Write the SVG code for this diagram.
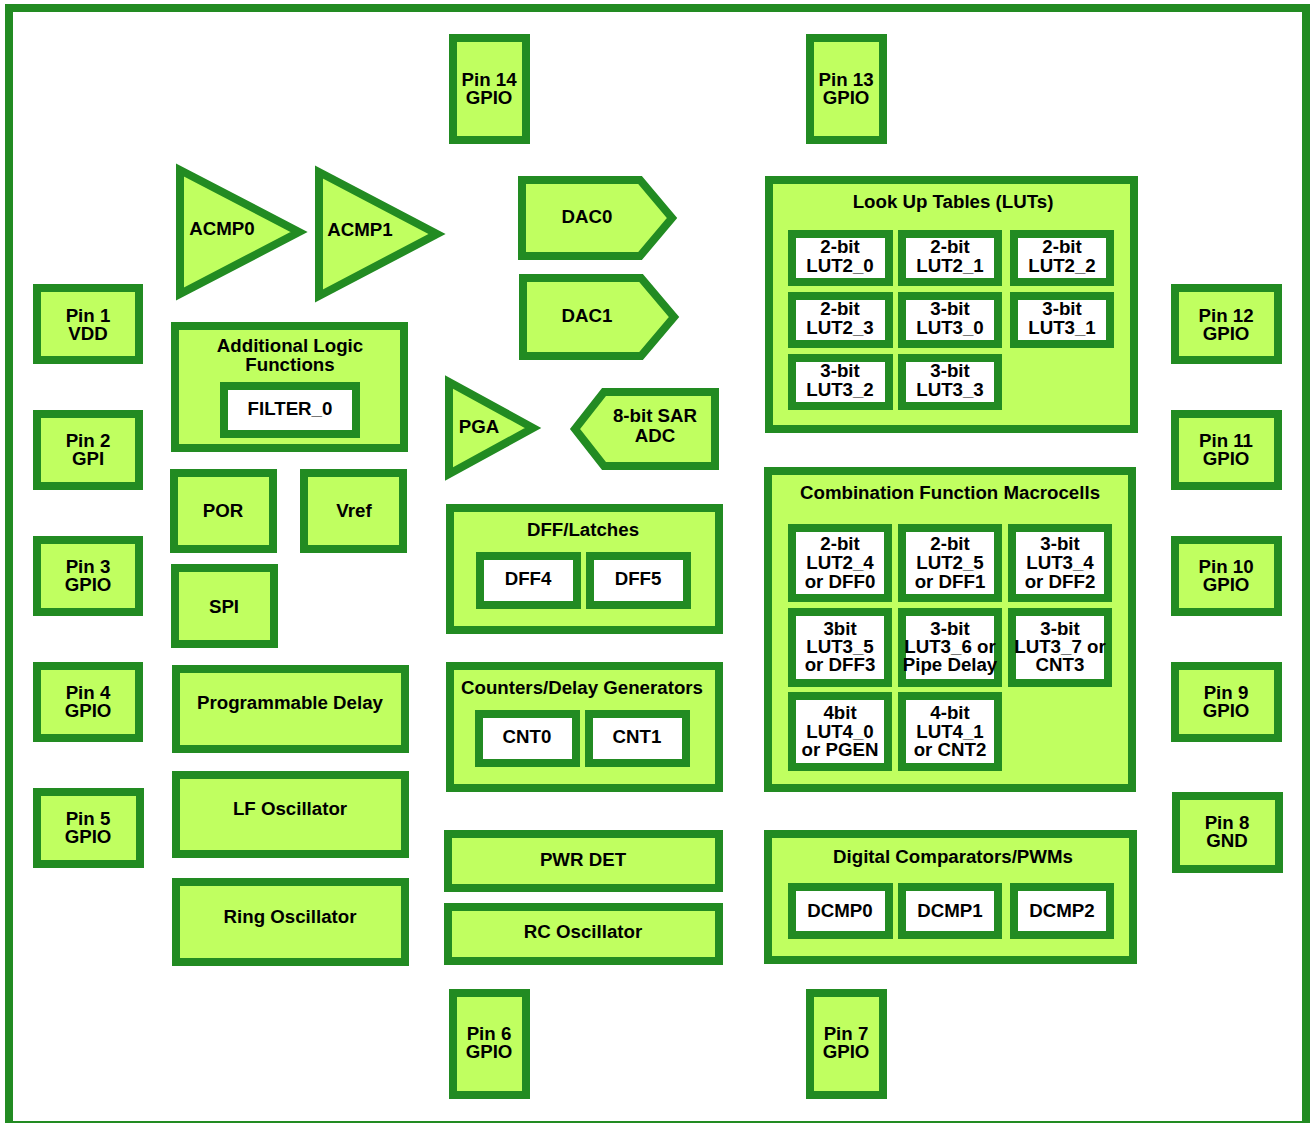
<svg xmlns="http://www.w3.org/2000/svg" width="1310" height="1123" viewBox="0 0 1310 1123">
<style>
.frame{fill:none;stroke:#228b22;stroke-width:8}
.blk{fill:#c0ff60;stroke:#228b22;stroke-width:8;stroke-linejoin:miter}
.cell{fill:#ffffff;stroke:#228b22;stroke-width:8}
text{font-family:"Liberation Sans",Arial,Helvetica,sans-serif;font-weight:bold;font-size:18.7px;text-anchor:middle;fill:#000}
</style>
<rect width="1310" height="1123" fill="#ffffff"/>
<rect class="frame" x="9" y="8" width="1297" height="1117"/>
<g id="connectors"/>

<g id="pin14"><rect class="blk" x="453" y="38" width="73" height="102"/><text x="489" y="86">Pin 14</text><text x="489" y="104">GPIO</text></g>
<g id="pin13"><rect class="blk" x="810" y="38" width="73" height="102"/><text x="846" y="86">Pin 13</text><text x="846" y="104">GPIO</text></g>
<g id="pin6"><rect class="blk" x="453" y="993" width="73" height="102"/><text x="489" y="1040">Pin 6</text><text x="489" y="1058">GPIO</text></g>
<g id="pin7"><rect class="blk" x="810" y="993" width="73" height="102"/><text x="846" y="1040">Pin 7</text><text x="846" y="1058">GPIO</text></g>

<g id="pin1"><rect class="blk" x="37" y="288" width="102" height="72"/><text x="88" y="322">Pin 1</text><text x="88" y="340">VDD</text></g>
<g id="pin2"><rect class="blk" x="37" y="414" width="102" height="72"/><text x="88" y="447">Pin 2</text><text x="88" y="465">GPI</text></g>
<g id="pin3"><rect class="blk" x="37" y="540" width="102" height="72"/><text x="88" y="573">Pin 3</text><text x="88" y="591">GPIO</text></g>
<g id="pin4"><rect class="blk" x="37" y="666" width="102" height="72"/><text x="88" y="699">Pin 4</text><text x="88" y="717">GPIO</text></g>
<g id="pin5"><rect class="blk" x="37" y="792" width="103" height="72"/><text x="88" y="825">Pin 5</text><text x="88" y="843">GPIO</text></g>

<g id="pin12"><rect class="blk" x="1175" y="288" width="103" height="72"/><text x="1226" y="322">Pin 12</text><text x="1226" y="340">GPIO</text></g>
<g id="pin11"><rect class="blk" x="1175" y="414" width="103" height="72"/><text x="1226" y="447">Pin 11</text><text x="1226" y="465">GPIO</text></g>
<g id="pin10"><rect class="blk" x="1175" y="540" width="103" height="72"/><text x="1226" y="573">Pin 10</text><text x="1226" y="591">GPIO</text></g>
<g id="pin9"><rect class="blk" x="1175" y="666" width="103" height="72"/><text x="1226" y="699">Pin 9</text><text x="1226" y="717">GPIO</text></g>
<g id="pin8"><rect class="blk" x="1176" y="796" width="103" height="73"/><text x="1227" y="829">Pin 8</text><text x="1227" y="847">GND</text></g>

<g id="acmp0"><polygon class="blk" points="180,170 180,294 299,232"/><text x="222" y="235">ACMP0</text></g>
<g id="acmp1"><polygon class="blk" points="319,172 319,296 437,234"/><text x="360" y="236">ACMP1</text></g>
<g id="dac0"><polygon class="blk" points="522,180 640,180 672,218 640,256 522,256"/><text x="587" y="223">DAC0</text></g>
<g id="dac1"><polygon class="blk" points="523,278 641,278 674,317 641,356 523,356"/><text x="587" y="322">DAC1</text></g>
<g id="pga"><polygon class="blk" points="449,382 449,474 533,428"/><text x="479" y="433">PGA</text></g>
<g id="adc"><polygon class="blk" points="715,392 715,466 604,466 575,429 604,392"/><text x="655" y="422">8-bit SAR</text><text x="655" y="442">ADC</text></g>

<g id="alf"><rect class="blk" x="175" y="326" width="229" height="122"/><text x="290" y="352">Additional Logic</text><text x="290" y="371">Functions</text>
<g id="filter0"><rect class="cell" x="224" y="386" width="132" height="48"/><text x="290" y="415">FILTER_0</text></g></g>
<g id="por"><rect class="blk" x="174" y="473" width="99" height="76"/><text x="223" y="517">POR</text></g>
<g id="vref"><rect class="blk" x="304" y="473" width="99" height="76"/><text x="354" y="517">Vref</text></g>
<g id="spi"><rect class="blk" x="175" y="568" width="99" height="76"/><text x="224" y="613">SPI</text></g>
<g id="pdelay"><rect class="blk" x="176" y="669" width="229" height="80"/><text x="290" y="709">Programmable Delay</text></g>
<g id="lfosc"><rect class="blk" x="176" y="775" width="229" height="79"/><text x="290" y="815">LF Oscillator</text></g>
<g id="ringosc"><rect class="blk" x="176" y="882" width="229" height="80"/><text x="290" y="923">Ring Oscillator</text></g>

<g id="dff"><rect class="blk" x="450" y="508" width="269" height="122"/><text x="583" y="536">DFF/Latches</text>
<g id="dff4"><rect class="cell" x="480" y="556" width="97" height="49"/><text x="528" y="585">DFF4</text></g>
<g id="dff5"><rect class="cell" x="590" y="556" width="97" height="49"/><text x="638" y="585">DFF5</text></g></g>
<g id="cnt"><rect class="blk" x="450" y="666" width="269" height="122"/><text x="582" y="694">Counters/Delay Generators</text>
<g id="cnt0"><rect class="cell" x="479" y="714" width="97" height="49"/><text x="527" y="743">CNT0</text></g>
<g id="cnt1"><rect class="cell" x="589" y="714" width="97" height="49"/><text x="637" y="743">CNT1</text></g></g>
<g id="pwrdet"><rect class="blk" x="448" y="834" width="271" height="54"/><text x="583" y="866">PWR DET</text></g>
<g id="rcosc"><rect class="blk" x="448" y="907" width="271" height="54"/><text x="583" y="938">RC Oscillator</text></g>

<g id="luts"><rect class="blk" x="769" y="180" width="365" height="249"/><text x="953" y="208">Look Up Tables (LUTs)</text>
<g id="lut2_0"><rect class="cell" x="792" y="234" width="97" height="48"/><text x="840" y="253">2-bit</text><text x="840" y="272">LUT2_0</text></g>
<g id="lut2_1"><rect class="cell" x="902" y="234" width="96" height="48"/><text x="950" y="253">2-bit</text><text x="950" y="272">LUT2_1</text></g>
<g id="lut2_2"><rect class="cell" x="1014" y="234" width="96" height="48"/><text x="1062" y="253">2-bit</text><text x="1062" y="272">LUT2_2</text></g>
<g id="lut2_3"><rect class="cell" x="792" y="296" width="97" height="48"/><text x="840" y="315">2-bit</text><text x="840" y="334">LUT2_3</text></g>
<g id="lut3_0"><rect class="cell" x="902" y="296" width="96" height="48"/><text x="950" y="315">3-bit</text><text x="950" y="334">LUT3_0</text></g>
<g id="lut3_1"><rect class="cell" x="1014" y="296" width="96" height="48"/><text x="1062" y="315">3-bit</text><text x="1062" y="334">LUT3_1</text></g>
<g id="lut3_2"><rect class="cell" x="792" y="358" width="97" height="48"/><text x="840" y="377">3-bit</text><text x="840" y="396">LUT3_2</text></g>
<g id="lut3_3"><rect class="cell" x="902" y="358" width="96" height="48"/><text x="950" y="377">3-bit</text><text x="950" y="396">LUT3_3</text></g></g>

<g id="cfm"><rect class="blk" x="768" y="471" width="364" height="317"/><text x="950" y="499">Combination Function Macrocells</text>
<g id="cfm1"><rect class="cell" x="792" y="528" width="96" height="70"/><text x="840" y="550">2-bit</text><text x="840" y="569">LUT2_4</text><text x="840" y="588">or DFF0</text></g>
<g id="cfm2"><rect class="cell" x="902" y="528" width="96" height="70"/><text x="950" y="550">2-bit</text><text x="950" y="569">LUT2_5</text><text x="950" y="588">or DFF1</text></g>
<g id="cfm3"><rect class="cell" x="1012" y="528" width="96" height="70"/><text x="1060" y="550">3-bit</text><text x="1060" y="569">LUT3_4</text><text x="1060" y="588">or DFF2</text></g>
<g id="cfm4"><rect class="cell" x="792" y="612" width="96" height="71"/><text x="840" y="635">3bit</text><text x="840" y="653">LUT3_5</text><text x="840" y="671">or DFF3</text></g>
<g id="cfm5"><rect class="cell" x="902" y="612" width="96" height="71"/><text x="950" y="635">3-bit</text><text x="950" y="653">LUT3_6 or</text><text x="950" y="671">Pipe Delay</text></g>
<g id="cfm6"><rect class="cell" x="1012" y="612" width="96" height="71"/><text x="1060" y="635">3-bit</text><text x="1060" y="653">LUT3_7 or</text><text x="1060" y="671">CNT3</text></g>
<g id="cfm7"><rect class="cell" x="792" y="696" width="96" height="71"/><text x="840" y="719">4bit</text><text x="840" y="738">LUT4_0</text><text x="840" y="756">or PGEN</text></g>
<g id="cfm8"><rect class="cell" x="902" y="696" width="96" height="71"/><text x="950" y="719">4-bit</text><text x="950" y="738">LUT4_1</text><text x="950" y="756">or CNT2</text></g></g>

<g id="dcmp"><rect class="blk" x="768" y="834" width="365" height="126"/><text x="953" y="863">Digital Comparators/PWMs</text>
<g id="dcmp0"><rect class="cell" x="792" y="887" width="97" height="48"/><text x="840" y="917">DCMP0</text></g>
<g id="dcmp1"><rect class="cell" x="902" y="887" width="96" height="48"/><text x="950" y="917">DCMP1</text></g>
<g id="dcmp2"><rect class="cell" x="1014" y="887" width="96" height="48"/><text x="1062" y="917">DCMP2</text></g></g>
</svg>
